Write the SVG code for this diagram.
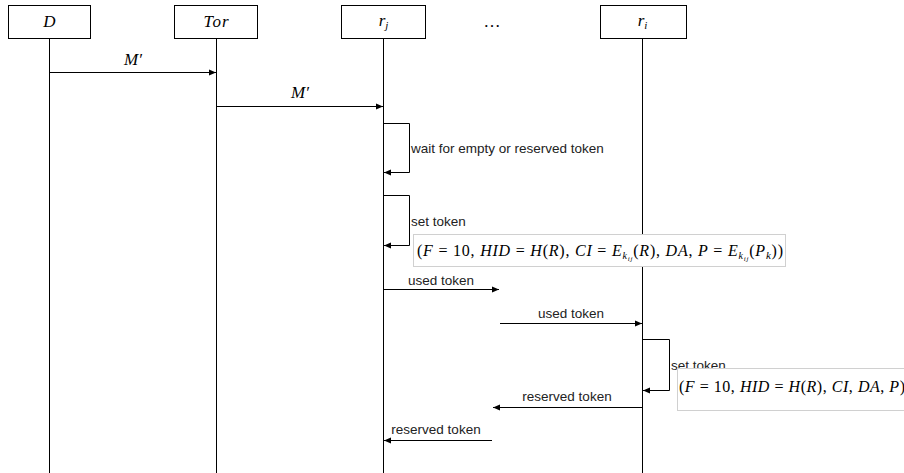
<svg xmlns="http://www.w3.org/2000/svg" width="904" height="473" viewBox="0 0 904 473">
<style>
.box{fill:#fff;stroke:#000;stroke-width:1}
.life{stroke:#000;stroke-width:1;fill:none}
.msg{stroke:#000;stroke-width:1;fill:none}
.lbl{font-family:"Liberation Sans",Arial,sans-serif;font-size:13.5px;fill:#222}
.m{font-family:"Liberation Serif","Times New Roman",serif;font-size:16px;fill:#000}
.h{font-size:17px}
.mi{font-style:italic}
.mbox{fill:#fff;stroke:#d0d0d0;stroke-width:1}
</style>
<defs>
<marker id="ah" markerWidth="8" markerHeight="8" refX="7" refY="4" orient="auto" markerUnits="userSpaceOnUse">
<path d="M0,1 L7,4 L0,7 Z" fill="#000"/>
</marker>
</defs>
<g id="node-D">
<rect class="box" x="8.5" y="5.5" width="82" height="33"/>
<text class="m h mi" x="49.5" y="27" text-anchor="middle">D</text>
<line class="life" x1="49.5" y1="38.5" x2="49.5" y2="473"/>
</g>
<g id="node-Tor">
<rect class="box" x="174.5" y="5.5" width="83" height="33"/>
<text class="m h mi" x="216.5" y="27" text-anchor="middle" letter-spacing="1">Tor</text>
<line class="life" x1="216.5" y1="38.5" x2="216.5" y2="473"/>
</g>
<g id="node-rj">
<rect class="box" x="341.5" y="5.5" width="84" height="33"/>
<text class="m h mi" x="383.5" y="26" text-anchor="middle">r<tspan font-size="11" dy="3">j</tspan></text>
<line class="life" x1="383.5" y1="38.5" x2="383.5" y2="473"/>
</g>
<g id="node-dots">
<text class="m h" x="492" y="27" text-anchor="middle">…</text>
</g>
<g id="node-ri">
<rect class="box" x="600.5" y="5.5" width="86" height="33"/>
<text class="m h mi" x="642.5" y="26" text-anchor="middle">r<tspan font-size="11" dy="3">i</tspan></text>
<line class="life" x1="642.5" y1="38.5" x2="642.5" y2="473"/>
</g>
<g id="connectors">
<line class="msg" x1="49.5" y1="72.5" x2="216" y2="72.5" marker-end="url(#ah)"/>
<text class="m h mi" x="133" y="65" text-anchor="middle">M′</text>
<line class="msg" x1="216.5" y1="106.5" x2="383" y2="106.5" marker-end="url(#ah)"/>
<text class="m h mi" x="300" y="98" text-anchor="middle">M′</text>
<path class="msg" d="M383.5,123.5 H409.5 V172.5 H384" marker-end="url(#ah)"/>
<text class="lbl" x="411" y="153">wait for empty or reserved token</text>
<path class="msg" d="M383.5,195.5 H409.5 V245.5 H384" marker-end="url(#ah)"/>
<text class="lbl" x="411" y="226">set token</text>
<rect class="mbox" x="413.5" y="234.5" width="372" height="32"/>
<text class="m" x="417" y="256" textLength="366" lengthAdjust="spacing"><tspan>(</tspan><tspan class="mi">F</tspan> = 10, <tspan class="mi">HID</tspan> = <tspan class="mi">H</tspan>(<tspan class="mi">R</tspan>), <tspan class="mi">CI</tspan> = <tspan class="mi">E</tspan><tspan class="mi" font-size="10" dy="3">k</tspan><tspan class="mi" font-size="7" dy="2">ij</tspan><tspan dy="-5">(</tspan><tspan class="mi">R</tspan>), <tspan class="mi">DA</tspan>, <tspan class="mi">P</tspan> = <tspan class="mi">E</tspan><tspan class="mi" font-size="10" dy="3">k</tspan><tspan class="mi" font-size="7" dy="2">ij</tspan><tspan dy="-5">(</tspan><tspan class="mi">P</tspan><tspan class="mi" font-size="11" dy="3">k</tspan><tspan dy="-3">))</tspan></text>
<line class="msg" x1="383.5" y1="289.5" x2="499" y2="289.5" marker-end="url(#ah)"/>
<text class="lbl" x="441" y="285" text-anchor="middle">used token</text>
<line class="msg" x1="500" y1="323.5" x2="642" y2="323.5" marker-end="url(#ah)"/>
<text class="lbl" x="571" y="318" text-anchor="middle">used token</text>
<path class="msg" d="M642.5,339.5 H669.5 V390.5 H643" marker-end="url(#ah)"/>
<text class="lbl" x="671" y="370">set token</text>
<rect class="mbox" x="677.5" y="368.5" width="240" height="42"/>
<text class="m" x="679" y="392" textLength="226" lengthAdjust="spacing"><tspan>(</tspan><tspan class="mi">F</tspan> = 10, <tspan class="mi">HID</tspan> = <tspan class="mi">H</tspan>(<tspan class="mi">R</tspan>), <tspan class="mi">CI</tspan>, <tspan class="mi">DA</tspan>, <tspan class="mi">P</tspan>)</text>
<line class="msg" x1="642.5" y1="407.5" x2="493" y2="407.5" marker-end="url(#ah)"/>
<text class="lbl" x="567" y="401" text-anchor="middle">reserved token</text>
<line class="msg" x1="492" y1="440.5" x2="384" y2="440.5" marker-end="url(#ah)"/>
<text class="lbl" x="436" y="434" text-anchor="middle">reserved token</text>
</g>
</svg>
